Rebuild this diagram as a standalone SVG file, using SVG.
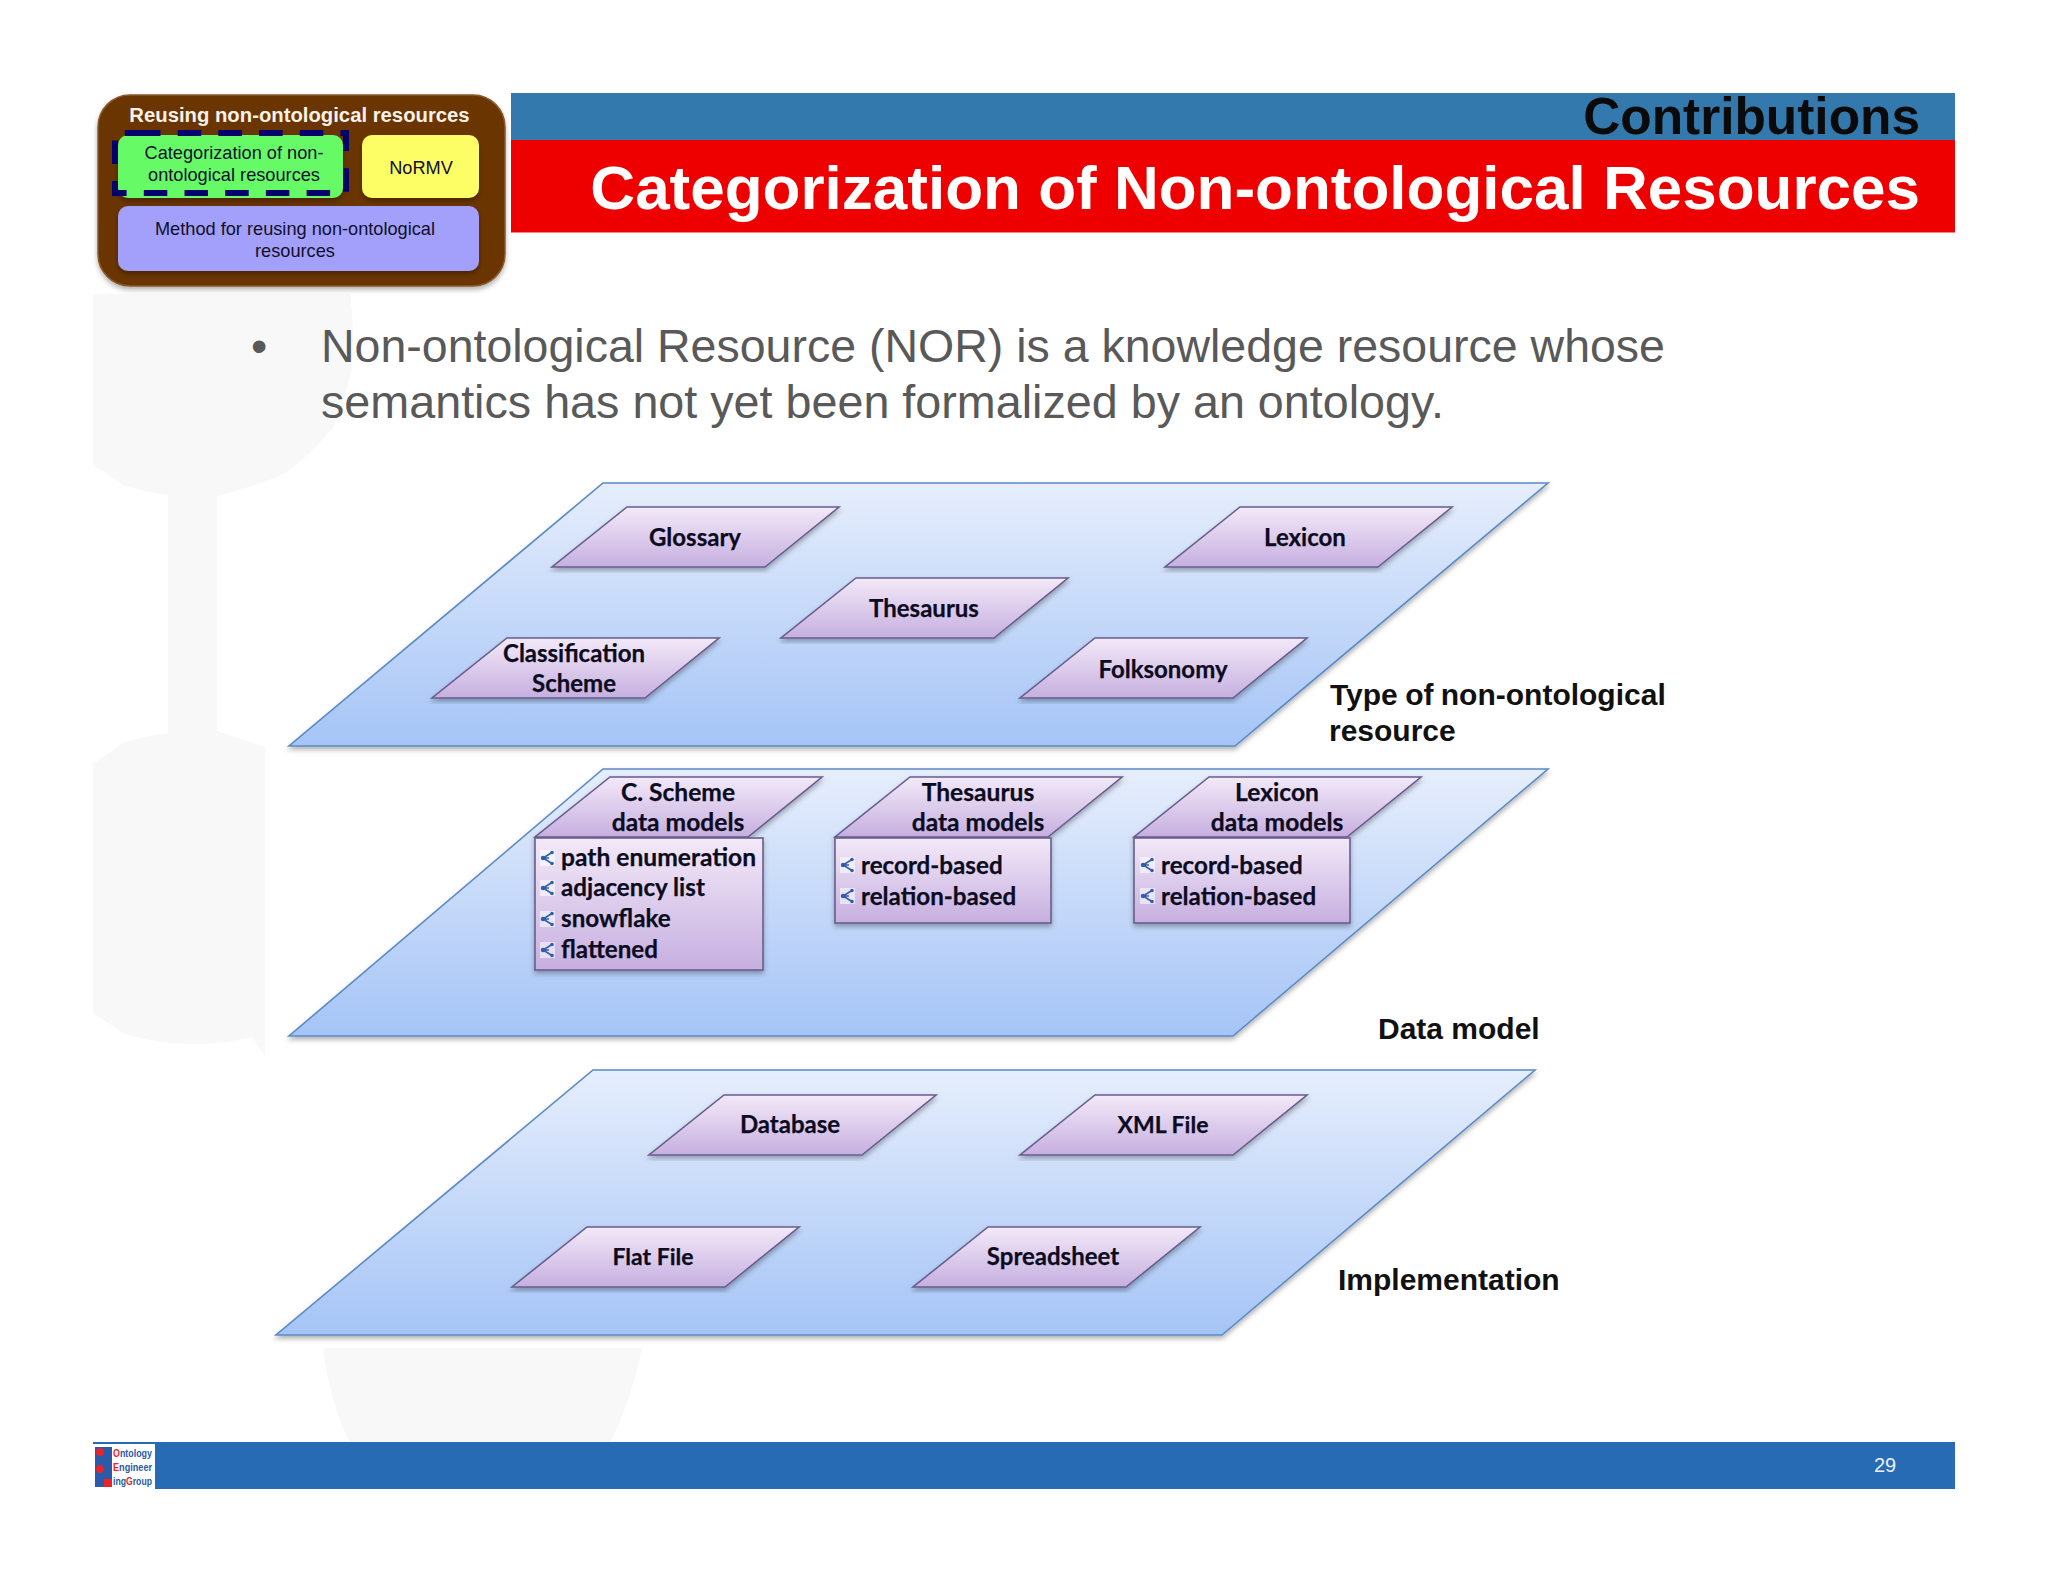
<svg xmlns="http://www.w3.org/2000/svg" width="2048" height="1582" viewBox="0 0 2048 1582">
<style>
.l{font-family:Lato,"Liberation Sans",sans-serif;font-weight:700;font-size:24px;fill:#0c0c20;stroke:#0c0c20;stroke-width:.25;text-anchor:middle}
.m{font-size:24.6px}
.ll{font-family:Lato,"Liberation Sans",sans-serif;font-weight:700;font-size:24.2px;fill:#0c0c20;stroke:#0c0c20;stroke-width:.25}
.a{font-family:"Liberation Sans",Arial,sans-serif}
.p{fill:url(#pg);stroke:#5b8ac6;stroke-width:1.6;filter:url(#sh)}
.s{fill:url(#sg);stroke:#685d8c;stroke-width:1.6;filter:url(#sh)}
.layer{font-family:"Liberation Sans",Arial,sans-serif;font-weight:700;font-size:30px;fill:#111}
.pn{font-family:"Liberation Sans",Arial,sans-serif;font-size:18.2px;fill:#10102a;text-anchor:middle}
.lg{font-family:"Liberation Sans",Arial,sans-serif;font-weight:700;font-size:11px;fill:#2a5aa8}
</style>
<defs>
<linearGradient id="pg" x1="0" y1="0" x2="0" y2="1"><stop offset="0" stop-color="#e6eefc"/><stop offset="1" stop-color="#a5c4f6"/></linearGradient>
<linearGradient id="sg" x1="0" y1="0" x2="0" y2="1"><stop offset="0" stop-color="#f3e9f8"/><stop offset="1" stop-color="#c6afe0"/></linearGradient>
<filter id="sh" x="-5%" y="-5%" width="110%" height="115%"><feDropShadow dx="0" dy="3" stdDeviation="2.5" flood-color="#000" flood-opacity=".3"/></filter>
<g id="ic"><rect x="0" y="-1" width="15" height="16" fill="#fff" opacity=".55"/><path d="M12 1.5 L3 7 L12 12.5 M3 7 L9 7" fill="none" stroke="#2f5fa8" stroke-width="1.6"/><circle cx="3" cy="7" r="2.2" fill="#2f5fa8"/><circle cx="12" cy="1.5" r="1.8" fill="#2f5fa8"/><circle cx="12" cy="12.5" r="1.8" fill="#2f5fa8"/></g>
<path id="par" d="M75 0H287L213 60H0Z"/>
</defs>
<rect width="2048" height="1582" fill="#fff"/>
<g id="watermark" fill="#f8f8f8">
<path d="M93 294H350Q355 335 352 367Q345 400 333 428Q310 455 287 472L265 482Q240 490 217 496V731L265 747V1056L252 1037Q225 1044 197 1044Q155 1044 123 1033L93 1013V764L123 743Q145 736 168 733V495Q145 492 123 485L93 464Z"/>
<path d="M323 1348H642Q630 1405 610 1442H350Q330 1405 323 1348Z"/>
</g>
<g id="header">
<rect x="511" y="93" width="1444" height="47" fill="#3379ad"/>
<rect x="511" y="140" width="1444" height="92.500" fill="#ee0000"/>
<text class="a" x="1920" y="134" font-size="51.400" font-weight="700" text-anchor="end" fill="#0a0a0a">Contributions</text>
<text class="a" x="1920" y="209" font-size="62" font-weight="700" text-anchor="end" fill="#fff">Categorization of Non-ontological Resources</text>
</g>
<g id="overview">
<rect x="98" y="95" width="407" height="191" rx="32" fill="#6b3606" stroke="#8a5a2a" stroke-width="1.5" filter="url(#sh)"/>
<text class="a" x="299.500" y="122" font-size="20.300" font-weight="700" fill="#f7f2ea" text-anchor="middle">Reusing non-ontological resources</text>
<g id="n-cat"><rect x="118" y="135" width="225" height="63" rx="10" fill="#66fb66" filter="url(#sh)"/>
<text class="pn"><tspan x="234" y="159">Categorization of non-</tspan><tspan x="234" y="181">ontological resources</tspan></text></g>
<path d="M137 133H346V193H115V133H137" fill="none" stroke="#03036e" stroke-width="6" stroke-dasharray="23.500 17.200"/>
<g id="n-normv"><rect x="362" y="135" width="117" height="63" rx="10" fill="#fdfd66" filter="url(#sh)"/>
<text class="pn" x="421" y="174">NoRMV</text></g>
<g id="n-method"><rect x="118" y="206" width="361" height="65" rx="10" fill="#a3a0fb" filter="url(#sh)"/>
<text class="pn"><tspan x="295" y="235">Method for reusing non-ontological</tspan><tspan x="295" y="257">resources</tspan></text></g>
</g>
<g id="bullet" class="a" font-size="46.500" fill="#595959">
<text x="251" y="362">•</text>
<text x="321" y="362">Non-ontological Resource (NOR) is a knowledge resource whose</text>
<text x="321" y="418" font-size="46.700">semantics has not yet been formalized by an ontology.</text>
</g>
<g id="plane-type"><polygon class="p" points="603,483 1548,483 1235,746 289,746"/></g>
<g id="plane-data"><polygon class="p" points="603,769 1548,769 1233,1036 289,1036"/></g>
<g id="plane-impl"><polygon class="p" points="593,1070 1535,1070 1222,1335 276,1335"/></g>
<g id="glossary"><use href="#par" class="s" x="552" y="507"/><text class="l" x="695" y="546">Glossary</text></g>
<g id="lexicon"><use href="#par" class="s" x="1165" y="507"/><text class="l" x="1305" y="546">Lexicon</text></g>
<g id="thesaurus"><use href="#par" class="s" x="781" y="578"/><text class="l" x="924" y="617">Thesaurus</text></g>
<g id="classification"><use href="#par" class="s" x="432" y="638"/><text class="l"><tspan x="574" y="662">Classification</tspan><tspan x="574" y="692">Scheme</tspan></text></g>
<g id="folksonomy"><use href="#par" class="s" x="1020" y="638"/><text class="l" x="1163" y="678">Folksonomy</text></g>
<g id="cscheme">
<use href="#par" class="s" x="535" y="777"/>
<text class="l m"><tspan x="678" y="801">C. Scheme</tspan><tspan x="678" y="831">data models</tspan></text>
<rect class="s" x="535" y="838" width="228" height="132"/>
<use href="#ic" x="540" y="851"/><text class="ll" x="561" y="866" style="font-size:24.6px">path enumeration</text>
<use href="#ic" x="540" y="881"/><text class="ll" x="561" y="896">adjacency list</text>
<use href="#ic" x="540" y="912"/><text class="ll" x="561" y="927">snowflake</text>
<use href="#ic" x="540" y="943"/><text class="ll" x="561" y="958">flattened</text>
</g>
<g id="tmodels">
<use href="#par" class="s" x="835" y="777"/>
<text class="l m"><tspan x="978" y="801">Thesaurus</tspan><tspan x="978" y="831">data models</tspan></text>
<rect class="s" x="835" y="838" width="216" height="85"/>
<use href="#ic" x="840" y="858"/><text class="ll" x="861" y="874">record-based</text>
<use href="#ic" x="840" y="889"/><text class="ll" x="861" y="905">relation-based</text>
</g>
<g id="lmodels">
<use href="#par" class="s" x="1134" y="777"/>
<text class="l m"><tspan x="1277" y="801">Lexicon</tspan><tspan x="1277" y="831">data models</tspan></text>
<rect class="s" x="1134" y="838" width="216" height="85"/>
<use href="#ic" x="1140" y="858"/><text class="ll" x="1161" y="874">record-based</text>
<use href="#ic" x="1140" y="889"/><text class="ll" x="1161" y="905">relation-based</text>
</g>
<g id="database"><use href="#par" class="s" x="649" y="1095"/><text class="l" x="790" y="1133">Database</text></g>
<g id="xml"><use href="#par" class="s" x="1020" y="1095"/><text class="l" x="1163" y="1133" style="font-size:23px">XML File</text></g>
<g id="flat"><use href="#par" class="s" x="512" y="1227"/><text class="l" x="653" y="1265" style="font-size:23px">Flat File</text></g>
<g id="spreadsheet"><use href="#par" class="s" x="913" y="1227"/><text class="l" x="1053" y="1265">Spreadsheet</text></g>
<g id="layer-labels">
<text class="layer" x="1330" y="705" word-spacing="-1">Type of non-ontological</text>
<text class="layer" x="1329" y="741">resource</text>
<text class="layer" x="1378" y="1039">Data model</text>
<text class="layer" x="1338" y="1290">Implementation</text>
</g>
<g id="footer">
<rect x="93" y="1442" width="1862" height="47" fill="#266bb4"/>
<rect x="93" y="1444" width="62" height="45" fill="#fff"/>
<rect x="95" y="1447" width="17" height="40" fill="#2a5aa8"/>
<g fill="#e8232a"><circle cx="100" cy="1452" r="4"/><circle cx="100" cy="1469" r="4"/><rect x="104" y="1479" width="8" height="8"/></g>
<text class="lg" x="113" y="1457" textLength="39" lengthAdjust="spacingAndGlyphs"><tspan fill="#e8232a">O</tspan>ntology</text>
<text class="lg" x="113" y="1471" textLength="39" lengthAdjust="spacingAndGlyphs"><tspan fill="#e8232a">E</tspan>ngineer</text>
<text class="lg" x="113" y="1485" textLength="39" lengthAdjust="spacingAndGlyphs">ing<tspan fill="#e8232a">G</tspan>roup</text>
<text class="a" x="1885" y="1472" font-size="20" fill="#eef" text-anchor="middle">29</text>
</g>
</svg>
